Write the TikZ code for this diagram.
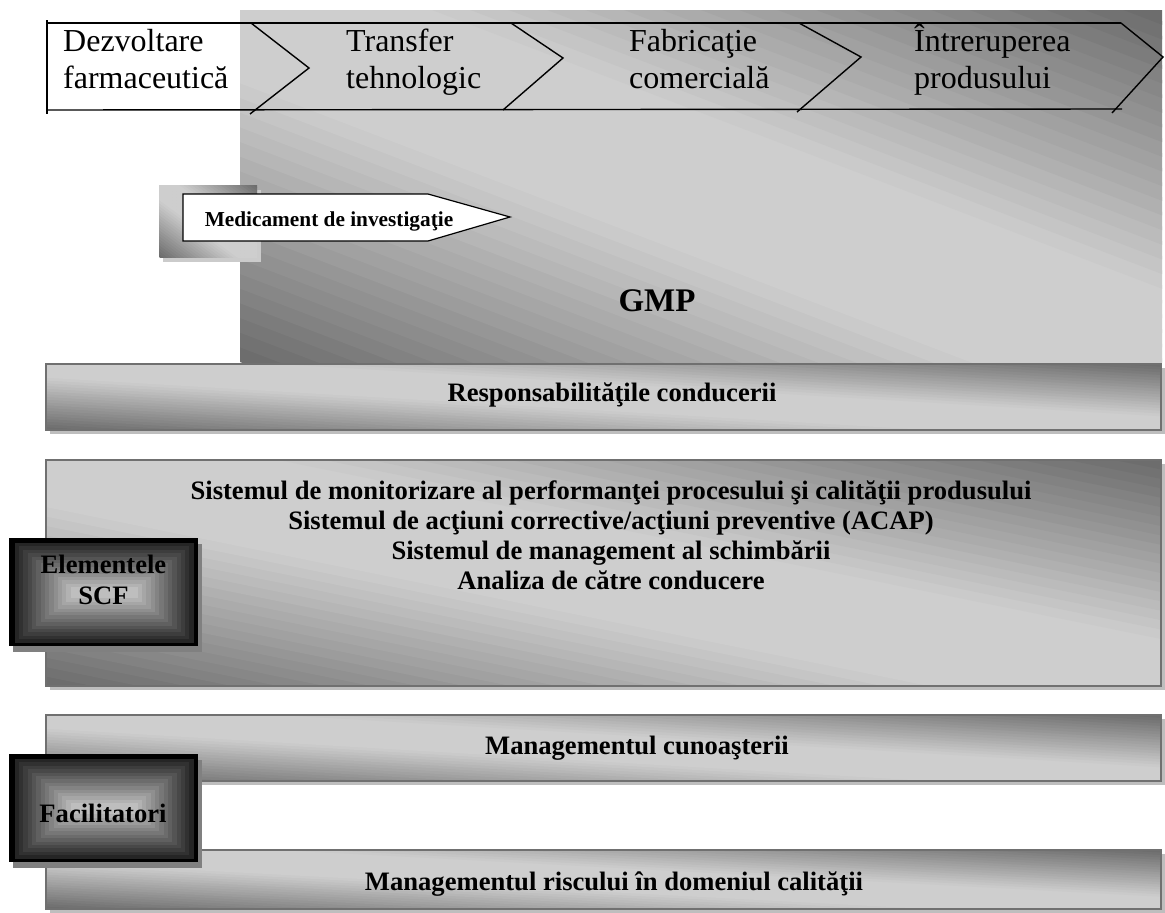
\documentclass[tikz,border=0pt]{standalone}
\usepackage{fontspec}
\setmainfont{Liberation Serif}
\definecolor{lt}{HTML}{CECECE}
\definecolor{dk}{HTML}{6A6A6A}
\definecolor{shd}{HTML}{BEBEBE}
\definecolor{bord}{HTML}{707070}
% diagonal gradient: dark at bottom-left and top-right, light along the other diagonal
\newcommand{\diaggrad}[4]{%
  \begin{scope}
    \clip (#1,#2) rectangle (#3,#4);
    \pgfmathsetmacro\gw{#3-#1}\pgfmathsetmacro\gh{#4-#2}
    \begin{scope}[shift={(#1,#4)},xscale=\gw,yscale=-\gh]
      \foreach \k in {0,...,47}{
        \pgfmathsetmacro\ca{2*\k/48}
        \pgfmathsetmacro\cb{2*(\k+1)/48+0.01}
        \pgfmathsetmacro\ff{min(100,125*(1-abs(2*(\k+0.5)/48-1)))}
        \fill[lt!\ff!dk] (\ca+1,-1) -- (-1,\ca+1) -- (-1,\cb+1) -- (\cb+1,-1) -- cycle;
      }
    \end{scope}
  \end{scope}}
% framed box with concentric steps from black to light gray
\newcommand{\gradframe}[4]{%
  \fill[black!50] (#1+4,#2+6) rectangle (#3+4,#4+6);
  \fill[black] (#1,#2) rectangle (#3,#4);
  \foreach \i in {1,...,14}{
    \pgfmathsetmacro\gg{10+\i*4.6}
    \fill[white!\gg!black] (#1+1.5+\i*4.3,#2+1.5+\i*3.4) rectangle (#3-\i*4.3,#4-\i*3.4);
  }}
% bar with shadow, gradient and border
\newcommand{\gradbar}[4]{%
  \fill[shd] (#1+4,#2+4) rectangle (#3+4,#4+4);
  \diaggrad{#1}{#2}{#3}{#4}
  \draw[bord, line width=1.3pt] (#1,#2) rectangle (#3,#4);}
\begin{document}
\begin{tikzpicture}[x=1pt,y=-1pt,
  chev/.style={line width=1.4pt, line join=miter, line cap=butt},
  bartext/.style={font=\fontsize{26.6}{30}\selectfont\bfseries, inner sep=0pt, anchor=base},
  multitext/.style={font=\fontsize{26.6}{30}\selectfont\bfseries, inner sep=0pt, anchor=north, align=center},
  chevtext/.style={font=\fontsize{32}{37}\selectfont, inner sep=0pt, anchor=north west, align=left},
  ]
\useasboundingbox (0,0) rectangle (1165,913);
\fill[white] (0,0) rectangle (1165,913);

% GMP background
\diaggrad{240}{10}{1162}{362}

% chevron strip
\draw[chev] (47,20) -- (47,114);
\draw[chev] (47,23) -- (1121,23);
\draw[chev] (47,110) -- (1122,109);
\draw[chev] (251,23) -- (309,68) -- (250,114);
\draw[chev] (511,23) -- (563,58) -- (503,110);
\draw[chev] (799,23) -- (861,57) -- (797,112);
\draw[chev] (1121,23) -- (1163,57) -- (1112,113);

\node[chevtext] (t1) at (63,24) {\vphantom{Î}Dezvoltare\\farmaceutică};
\node[chevtext] (t2) at (346,24) {\vphantom{Î}Transfer\\tehnologic};
\node[chevtext] (t3) at (629,24) {\vphantom{Î}Fabricaţie\\comercială};
\node[chevtext] (t4) at (914,24) {Întreruperea\\produsului};

% investigational medicine
\fill[shd!80!white] (163,190) rectangle (261,262);
\diaggrad{159}{185}{257}{257}
\draw[fill=white, line width=1.2pt, line join=miter] (183,194) -- (428,194) -- (510,217) -- (428,241) -- (183,241) -- cycle;
\node[font=\fontsize{21.3}{24}\selectfont\bfseries, inner sep=0pt, anchor=base] (med) at (329,226) {Medicament de investigaţie};

\node[font=\fontsize{33}{36}\selectfont\bfseries, inner sep=0pt, anchor=base] (gmp) at (657,311) {GMP};

% bars
\gradbar{46}{364}{1161}{430}
\node[bartext] (resp) at (612,401) {Responsabilităţile conducerii};

\gradbar{46}{460}{1161}{686}
\node[multitext] (scf) at (611,476) {\vphantom{Î}Sistemul de monitorizare al performanţei procesului şi calităţii produsului\\
Sistemul de acţiuni corrective/acţiuni preventive (ACAP)\\
Sistemul de management al schimbării\\
Analiza de către conducere};

\gradbar{46}{715}{1161}{781}
\node[bartext] (km) at (637,754) {Managementul cunoaşterii};

\gradbar{46}{850}{1161}{909}
\node[bartext] (risc) at (614,890) {Managementul riscului în domeniul calităţii};

% side boxes
\gradframe{9}{538}{198}{646}
\node[multitext, font=\fontsize{26.6}{31}\selectfont\bfseries] (elem) at (103.5,550) {\vphantom{Î}Elementele\\SCF};

\gradframe{9}{754}{198}{862}
\node[bartext] (fac) at (103,822) {Facilitatori};
\end{tikzpicture}
\end{document}
